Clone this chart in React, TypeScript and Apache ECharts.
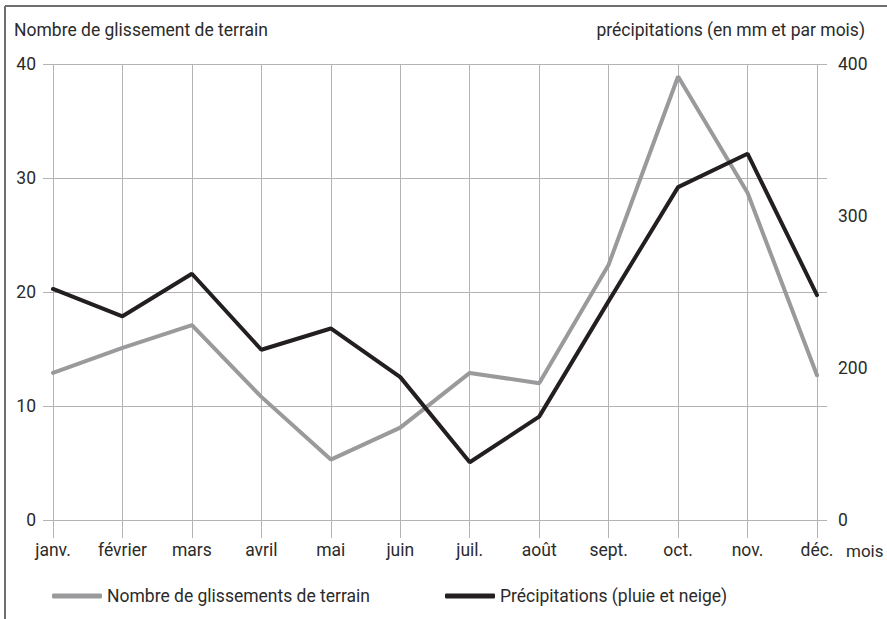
import React, { useEffect, useRef } from "react";
import * as echarts from "echarts";

const months = ["janv.", "février", "mars", "avril", "mai", "juin", "juil.", "août", "sept.", "oct.", "nov.", "déc."];
const landslides = [12.9, 15.1, 17.1, 10.8, 5.3, 8.1, 12.9, 12.0, 22.4, 38.9, 28.7, 12.7];
const precipitation = [252, 234, 262, 212, 226, 194, 138, 168, 244, 319, 341, 248];
const leftTicks = [0, 10, 20, 30, 40];
const rightTicks = [100, 200, 300, 400];
const rightTickLabels: Record<number, string> = { 100: "0", 200: "200", 300: "300", 400: "400" };

const seriesNames = ["Nombre de glissements de terrain", "Précipitations (pluie et neige)"];
const FONT = "Roboto";
const FS = 17.5;
const TXT = "#2b2b2b";
const GRID = "#b3b3b3";

export default function App() {
  const ref = useRef<HTMLDivElement>(null);
  useEffect(() => {
    if (!ref.current) return;
    const chart = echarts.init(ref.current, undefined, { renderer: "svg" });
    chart.setOption({
      animation: false,
      backgroundColor: "#fff",
      textStyle: { fontFamily: FONT, color: TXT },
      grid: { left: 53, right: 70, top: 64, bottom: 99, containLabel: false, outerBoundsMode: "none" },
      legend: [
        {
          data: [seriesNames[0]],
          left: 52,
          top: 587,
          padding: 0,
          icon: "roundRect",
          itemWidth: 50,
          itemHeight: 5,
          textStyle: { fontFamily: FONT, fontSize: FS, color: TXT },
        },
        {
          data: [seriesNames[1]],
          left: 445,
          top: 587,
          padding: 0,
          icon: "roundRect",
          itemWidth: 50,
          itemHeight: 5,
          textStyle: { fontFamily: FONT, fontSize: FS, color: TXT },
        },
      ],
      xAxis: {
        type: "category",
        data: months,
        boundaryGap: false,
        name: "mois",
        nameLocation: "end",
        nameGap: 29,
        nameTextStyle: { fontFamily: FONT, fontSize: 17, color: TXT, verticalAlign: "top", padding: [22, 0, 0, 0] },
        axisLine: { show: true, lineStyle: { color: GRID, width: 1 } },
        axisTick: { show: true, alignWithLabel: true, length: 18, lineStyle: { color: GRID, width: 1 } },
        axisLabel: { fontFamily: FONT, fontSize: FS, color: TXT, margin: 21, interval: 0 },
        splitLine: { show: true, lineStyle: { color: GRID, width: 1 } },
      },
      yAxis: [
        {
          type: "value",
          min: 0,
          max: 40,
          interval: 10,
          position: "left",
          offset: 0,
          name: "Nombre de glissement de terrain",
          nameLocation: "end",
          nameGap: 25,
          nameTextStyle: { fontFamily: FONT, fontSize: FS, color: TXT, align: "left", padding: [0, 0, 0, -39] },
          axisLine: { show: false },
          axisTick: { show: true, length: 10, lineStyle: { color: GRID, width: 1 } },
          axisLabel: {
            fontFamily: FONT,
            fontSize: FS,
            color: TXT,
            margin: 17,
            formatter: (v: number) => (leftTicks.includes(v) ? String(v) : ""),
          },
          splitLine: { show: true, lineStyle: { color: GRID, width: 1 } },
        },
        {
          type: "value",
          min: 100,
          max: 400,
          interval: 100,
          position: "right",
          offset: 0,
          name: "précipitations (en mm et par mois)",
          nameLocation: "end",
          nameGap: 25,
          nameTextStyle: { fontFamily: FONT, fontSize: FS, color: TXT, align: "right", padding: [0, -48, 0, 0] },
          axisLine: { show: false },
          axisTick: { show: false },
          axisLabel: {
            fontFamily: FONT,
            fontSize: FS,
            color: TXT,
            margin: 21,
            formatter: (v: number) => (rightTicks.includes(v) ? rightTickLabels[v] : ""),
          },
          splitLine: { show: false },
        },
        {
          type: "value",
          min: 0,
          max: 40,
          interval: 10,
          position: "right",
          offset: 0,
          axisLine: { show: false },
          axisTick: { show: true, length: 10, lineStyle: { color: GRID, width: 1 } },
          axisLabel: { show: false },
          splitLine: { show: false },
        },
      ],
      series: [
        {
          name: seriesNames[0],
          type: "line",
          yAxisIndex: 0,
          data: landslides,
          symbol: "none",
          lineStyle: { color: "#9a9a9c", width: 4, cap: "round" },
          itemStyle: { color: "#9a9a9c" },
          z: 3,
        },
        {
          name: seriesNames[1],
          type: "line",
          yAxisIndex: 1,
          data: precipitation,
          symbol: "none",
          lineStyle: { color: "#231f20", width: 4, cap: "round" },
          itemStyle: { color: "#231f20" },
          z: 4,
        },
      ],
      graphic: [
        { type: "line", shape: { x1: 5, y1: 6, x2: 887, y2: 6 }, style: { stroke: "#6f6f6f", lineWidth: 2 } },
        { type: "line", shape: { x1: 5, y1: 6, x2: 5, y2: 619 }, style: { stroke: "#6f6f6f", lineWidth: 2 } },
      ],
    });
    return () => chart.dispose();
  }, []);
  return <div ref={ref} style={{ width: 887, height: 619, position: "absolute", left: 0, top: 0 }} />;
}
